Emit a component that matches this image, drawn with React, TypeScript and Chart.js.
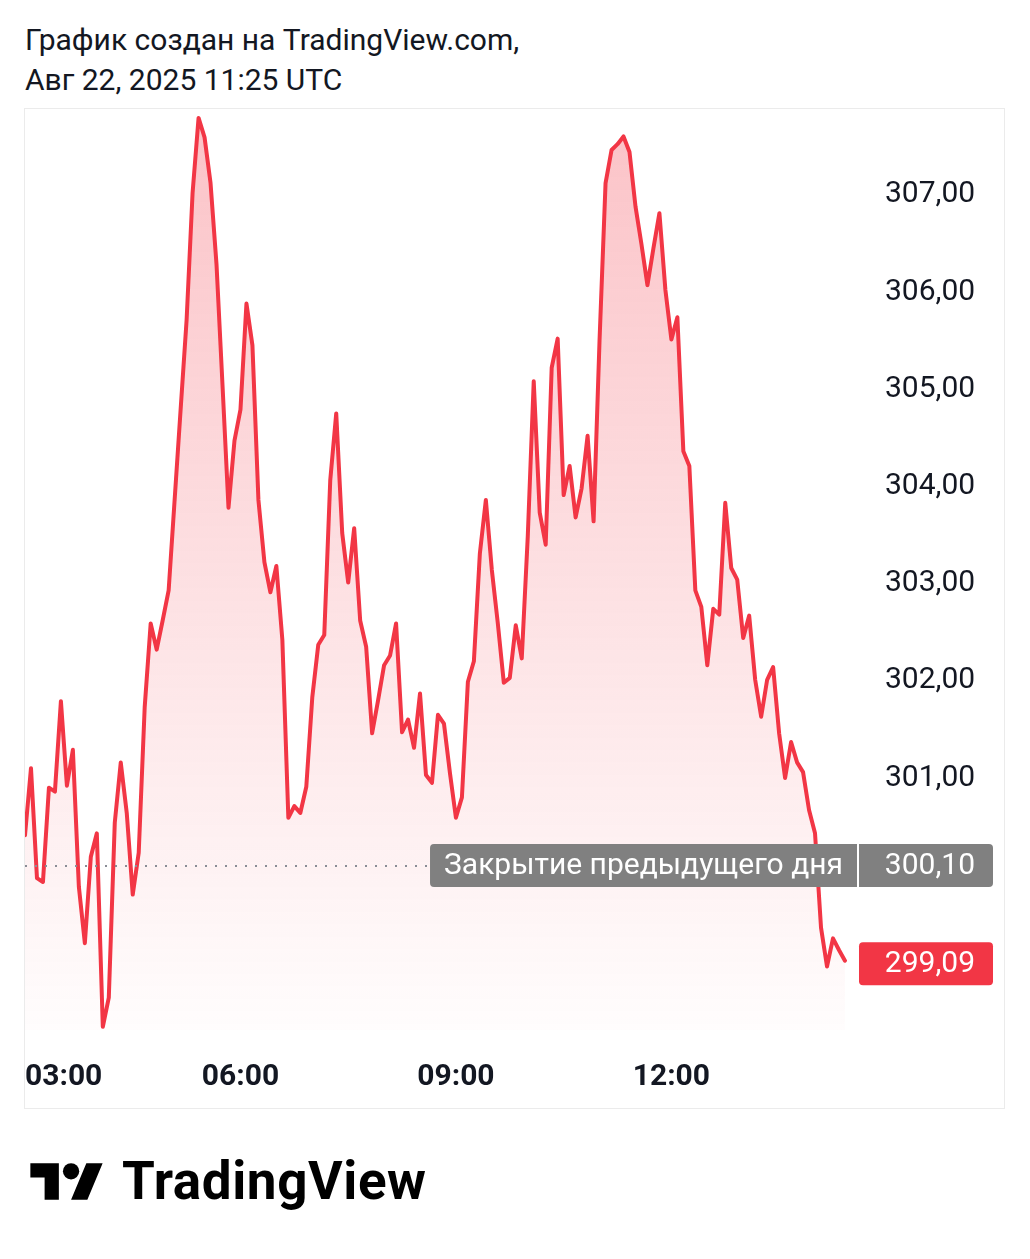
import React, { useEffect, useRef } from "react";
import { Chart, registerables } from "chart.js";

Chart.register(...registerables);

// 5-minute closes from 03:00 to 14:25 (index 0 = 03:00)
const PRICES: number[] = [
  300.38, 301.07, 299.94, 299.90, 300.87, 300.83, 301.76, 300.89, 301.26, 299.85,
  299.27, 300.16, 300.40, 298.41, 298.71, 300.51, 301.13, 300.61, 299.77, 300.20,
  301.70, 302.56, 302.29, 302.59, 302.90, 303.83, 304.76, 305.68, 306.99, 307.76,
  307.56, 307.09, 306.25, 305.01, 303.75, 304.44, 304.76, 305.85, 305.42, 303.83,
  303.19, 302.88, 303.15, 302.39, 300.56, 300.68, 300.61, 300.88, 301.80, 302.34,
  302.44, 304.03, 304.72, 303.49, 302.98, 303.54, 302.59, 302.32, 301.43, 301.77,
  302.13, 302.23, 302.56, 301.44, 301.57, 301.28, 301.84, 301.00, 300.92, 301.62,
  301.53, 301.02, 300.56, 300.77, 301.96, 302.17, 303.28, 303.83, 303.11, 302.56,
  301.95, 302.00, 302.54, 302.20, 303.45, 305.05, 303.70, 303.37, 305.19, 305.49,
  303.88, 304.18, 303.65, 303.95, 304.49, 303.61, 305.48, 307.09, 307.43, 307.49,
  307.57, 307.41, 306.85, 306.46, 306.04, 306.42, 306.78, 305.99, 305.48, 305.71,
  304.33, 304.18, 302.90, 302.73, 302.13, 302.71, 302.65, 303.80, 303.13, 303.01,
  302.41, 302.64, 301.98, 301.60, 301.98, 302.11, 301.43, 300.97, 301.34, 301.13,
  301.03, 300.64, 300.40, 299.43, 299.03, 299.32, 299.20, 299.09,
];

const TIME_TICKS: number[] = [0, 36, 72, 108];
const TIME_LABELS: string[] = ["03:00", "06:00", "09:00", "12:00"];
const PRICE_TICKS: number[] = [301, 302, 303, 304, 305, 306, 307];
const PREV_CLOSE = 300.1;
const PREV_CLOSE_LABEL = "Закрытие предыдущего дня";
const LAST_PRICE = 299.09;
const HEADER_LINES: string[] = ["График создан на TradingView.com,", "Авг 22, 2025 11:25 UTC"];
const BRAND = "TradingView";

const RED = "#f23645";
const TEXT = "#131722";
const FONT = "Roboto, 'Noto Sans', sans-serif";

const fmt = (v: number) => v.toFixed(2).replace(".", ",");

function roundRect(ctx: CanvasRenderingContext2D, x: number, y: number, w: number, h: number, r: number) {
  ctx.beginPath();
  ctx.moveTo(x + r, y);
  ctx.lineTo(x + w - r, y);
  ctx.quadraticCurveTo(x + w, y, x + w, y + r);
  ctx.lineTo(x + w, y + h - r);
  ctx.quadraticCurveTo(x + w, y + h, x + w - r, y + h);
  ctx.lineTo(x + r, y + h);
  ctx.quadraticCurveTo(x, y + h, x, y + h - r);
  ctx.lineTo(x, y + r);
  ctx.quadraticCurveTo(x, y, x + r, y);
  ctx.closePath();
}

const LABEL_SHIFT = 3;

const overlayPlugin = {
  id: "tvOverlay",
  afterDatasetsDraw(chart: any) {
    const ctx: CanvasRenderingContext2D = chart.ctx;
    const { chartArea } = chart;
    const ys = chart.scales.y;
    const xs = chart.scales.x;
    const boxH = 43;
    const axisLeft = chartArea.right + 1;
    const axisBoxW = 134;

    // previous close dotted line
    const yPrev = ys.getPixelForValue(PREV_CLOSE) + LABEL_SHIFT;
    ctx.save();
    ctx.strokeStyle = "#8a8d96";
    ctx.lineWidth = 2;
    ctx.setLineDash([2, 8]);
    ctx.beginPath();
    ctx.moveTo(chartArea.left, Math.round(yPrev));
    ctx.lineTo(chartArea.right, Math.round(yPrev));
    ctx.stroke();
    ctx.setLineDash([]);

    // previous close label
    ctx.font = `30px ${FONT}`;
    const labelW = ctx.measureText(PREV_CLOSE_LABEL).width + 28;
    ctx.fillStyle = "#808080";
    roundRect(ctx, chartArea.right - 1 - labelW, yPrev - boxH / 2, labelW + axisBoxW + 2, boxH, 4);
    ctx.fill();
    ctx.fillStyle = "#ffffff";
    ctx.fillRect(chartArea.right - 1, yPrev - boxH / 2, 2, boxH);
    ctx.textBaseline = "middle";
    ctx.textAlign = "left";
    ctx.fillText(PREV_CLOSE_LABEL, chartArea.right - 1 - labelW + 14, yPrev + 1);
    ctx.textAlign = "right";
    ctx.fillText(fmt(PREV_CLOSE), axisLeft + axisBoxW - 18, yPrev + 1);

    // last price label
    const yLast = ys.getPixelForValue(LAST_PRICE) + LABEL_SHIFT;
    ctx.fillStyle = RED;
    roundRect(ctx, axisLeft, yLast - boxH / 2, axisBoxW, boxH, 4);
    ctx.fill();
    ctx.fillStyle = "#ffffff";
    ctx.fillText(fmt(LAST_PRICE), axisLeft + axisBoxW - 18, yLast + 1);

    // time axis labels
    ctx.font = `bold 30px ${FONT}`;
    ctx.fillStyle = TEXT;
    const ty = chartArea.bottom + 47;
    TIME_TICKS.forEach((t, k) => {
      const px = xs.getPixelForValue(t);
      const w = ctx.measureText(TIME_LABELS[k]).width;
      if (px - w / 2 < chartArea.left) {
        ctx.textAlign = "left";
        ctx.fillText(TIME_LABELS[k], chartArea.left, ty);
      } else {
        ctx.textAlign = "center";
        ctx.fillText(TIME_LABELS[k], px, ty);
      }
    });
    ctx.restore();
  },
};

function ChartCanvas() {
  const ref = useRef<HTMLCanvasElement | null>(null);
  useEffect(() => {
    if (!ref.current) return;
    const data = PRICES.map((p, i) => ({ x: i, y: p }));
    const chart = new Chart(ref.current, {
      type: "line",
      data: {
        datasets: [
          {
            data,
            borderColor: RED,
            borderWidth: 4,
            borderJoinStyle: "round",
            borderCapStyle: "round",
            pointRadius: 0,
            tension: 0,
            fill: "start",
            backgroundColor: (c: any) => {
              const area = c.chart.chartArea;
              if (!area) return "rgba(242,54,69,0.2)";
              const g = c.chart.ctx.createLinearGradient(0, area.top, 0, area.bottom);
              g.addColorStop(0, "rgba(242,54,69,0.30)");
              g.addColorStop(1, "rgba(242,54,69,0.01)");
              return g;
            },
          },
        ],
      },
      options: {
        animation: false,
        responsive: false,
        devicePixelRatio: 1,
        layout: { padding: { top: 0, left: 0, right: 0, bottom: 78 } },
        plugins: { legend: { display: false }, tooltip: { enabled: false } },
        scales: {
          x: {
            type: "linear",
            display: false,
            min: 0,
            max: 139.18,
          },
          y: {
            position: "right",
            min: 298.377,
            max: 307.852,
            grid: { display: false, drawTicks: false },
            border: { display: false },
            afterBuildTicks: (s: any) => {
              s.ticks = PRICE_TICKS.map((v) => ({ value: v }));
            },
            afterFit: (s: any) => {
              s.width = 146;
              s.paddingTop = 0;
              s.paddingBottom = 0;
            },
            ticks: {
              padding: 27,
              labelOffset: 3,
              color: TEXT,
              font: { family: FONT, size: 30 },
              callback: (v: any) => fmt(Number(v)),
            },
          },
        },
      } as any,
      plugins: [overlayPlugin],
    });
    return () => chart.destroy();
  }, []);
  return <canvas ref={ref} width={979} height={999} style={{ display: "block", width: 979, height: 999 }} />;
}

export default function App() {
  return (
    <div
      style={{
        position: "absolute",
        left: 0,
        top: 0,
        width: 1030,
        height: 1259,
        background: "#ffffff",
        fontFamily: FONT,
        color: TEXT,
        overflow: "hidden",
      }}
    >
      <div style={{ position: "absolute", left: 25, top: 20, fontSize: 30, lineHeight: "40px", whiteSpace: "nowrap" }}>
        {HEADER_LINES.map((l) => (
          <div key={l}>{l}</div>
        ))}
      </div>
      <div
        style={{
          position: "absolute",
          left: 24,
          top: 108,
          width: 979,
          height: 999,
          border: "1px solid #ebebeb",
        }}
      >
        <ChartCanvas />
      </div>
      <svg
        style={{ position: "absolute", left: 30, top: 1155 }}
        width={74}
        height={57}
        viewBox="0 0 36 28"
      >
        <path d="M14 22H7V11H0V4h14v18zM28 22h-8l7.5-18h8L28 22z" fill="#000" />
        <circle cx="20" cy="8" r="4" fill="#000" />
      </svg>
      <div
        style={{
          position: "absolute",
          left: 122,
          top: 1151,
          fontSize: 53,
          fontWeight: 700,
          lineHeight: "60px",
          color: "#000",
          letterSpacing: "0.6px",
        }}
      >
        {BRAND}
      </div>
    </div>
  );
}
